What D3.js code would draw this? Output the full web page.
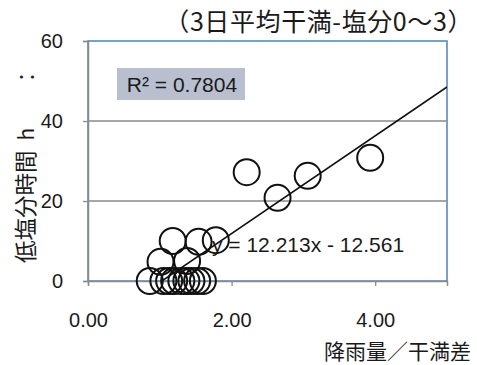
<!DOCTYPE html>
<html>
<head>
<meta charset="utf-8">
<script src="https://cdn.jsdelivr.net/npm/d3@7"></script>
<style>
  html, body { margin: 0; padding: 0; background: #fff; }
  svg { display: block; }
  text { font-family: "Liberation Sans", Arial, "Noto Sans CJK JP", sans-serif; fill: #1a1a1a; }
  .jp { font-family: "Noto Sans CJK JP", sans-serif; }
</style>
</head>
<body>
<svg id="chart" width="477" height="365"></svg>
<script>
// Rainfall / tidal range ratio vs. hours of low salinity
const ratioX = [2.21, 2.64, 3.06, 3.93,
                1.18, 1.54, 1.78,
                1.01, 1.38,
                0.86, 1.05, 1.13, 1.20, 1.30, 1.37, 1.44, 1.52, 1.60];
const hoursY = [27.2, 20.8, 26.3, 30.8,
                10.0, 9.8, 10.2,
                4.8, 5.0,
                0, 0, 0, 0, 0, 0, 0, 0, 0];
const xTicks = [0, 2, 4];
const yTicks = [0, 20, 40, 60];
const slope = 12.213, intercept = -12.561, r2 = "0.7804";

const svg = d3.select("#chart");
const L = 88, R = 447, T = 41, B = 281;

const x = d3.scaleLinear().domain([0, 5]).range([L, R]);
const y = d3.scaleLinear().domain([0, 60]).range([B, T]);

// plot frame
svg.append("rect").attr("x", L).attr("y", T).attr("width", R - L).attr("height", B - T)
  .attr("fill", "none").attr("stroke", "#4f82b4").attr("stroke-width", 1.5);

// gridlines
svg.append("g").selectAll("line").data([20, 40]).join("line")
  .attr("x1", L).attr("x2", R).attr("y1", d => y(d)).attr("y2", d => y(d))
  .attr("stroke", "#8a8a8a").attr("stroke-width", 1.3);

// y axis
const yAxis = svg.append("g").attr("transform", `translate(${L},0)`)
  .call(d3.axisLeft(y).tickValues(yTicks).tickSize(5).tickPadding(20).tickFormat(d3.format("d")));
yAxis.select(".domain").attr("stroke", "#8a8a8a").attr("stroke-width", 1.5);
yAxis.selectAll(".tick line").attr("stroke", "#8a8a8a").attr("stroke-width", 1.3);
yAxis.selectAll(".tick text").attr("font-size", 20).attr("fill", "#1a1a1a")
  .attr("font-family", "Liberation Sans, Arial, sans-serif");

// x axis
const xAxis = svg.append("g").attr("transform", `translate(0,${B})`)
  .call(d3.axisBottom(x).tickValues(xTicks).tickSize(5).tickPadding(27).tickFormat(d3.format(".2f")));
xAxis.select(".domain").attr("stroke", "#8a8a8a").attr("stroke-width", 1.5);
xAxis.selectAll(".tick line").attr("stroke", "#8a8a8a").attr("stroke-width", 1.3);
xAxis.selectAll(".tick text").attr("font-size", 20).attr("fill", "#1a1a1a")
  .attr("font-family", "Liberation Sans, Arial, sans-serif");

// clip for trendline
svg.append("clipPath").attr("id", "plotClip").append("rect")
  .attr("x", L).attr("y", T).attr("width", R - L).attr("height", B - T);

// linear trendline
const x0 = d3.min(ratioX), x1 = 5;
svg.append("line").attr("clip-path", "url(#plotClip)")
  .attr("x1", x(x0)).attr("y1", y(slope * x0 + intercept))
  .attr("x2", x(x1)).attr("y2", y(slope * x1 + intercept))
  .attr("stroke", "#111").attr("stroke-width", 1.6);

// equation label
svg.append("text").attr("x", 212).attr("y", 252).attr("font-size", 21)
  .text(`y = ${slope}x - ${Math.abs(intercept)}`);

// R² box
svg.append("rect").attr("x", 117).attr("y", 68).attr("width", 128).attr("height", 32)
  .attr("fill", "#b9bfcf");
svg.append("text").attr("x", 182).attr("y", 92).attr("text-anchor", "middle").attr("font-size", 21)
  .text(`R² = ${r2}`);

// data points (hollow circles)
svg.append("g").selectAll("circle").data(ratioX.map((v, i) => [v, hoursY[i]])).join("circle")
  .attr("cx", d => x(d[0])).attr("cy", d => y(d[1])).attr("r", 13)
  .attr("fill", "none").attr("stroke", "#111").attr("stroke-width", 2);

// title
svg.append("text").attr("class", "jp").attr("x", 473).attr("y", 31).attr("text-anchor", "end")
  .attr("font-size", 25).attr("letter-spacing", 0.6).text("（3日平均干満-塩分0～3）");

// x axis title
svg.append("text").attr("class", "jp").attr("x", 471).attr("y", 359).attr("text-anchor", "end")
  .attr("font-size", 21).text("降雨量／干満差");

// y axis title (rotated)
const yt = svg.append("g");
yt.append("text").attr("class", "jp").attr("transform", "translate(34,263) rotate(-90)")
  .attr("font-size", 22.5).text("低塩分時間");
yt.append("text").attr("class", "jp").attr("transform", "translate(34,134) rotate(-90)")
  .attr("text-anchor", "middle").attr("font-size", 21).text("h");
yt.append("text").attr("class", "jp").attr("transform", "translate(34,77) rotate(-90)")
  .attr("text-anchor", "middle").attr("font-size", 21).text("：");
</script>
</body>
</html>
